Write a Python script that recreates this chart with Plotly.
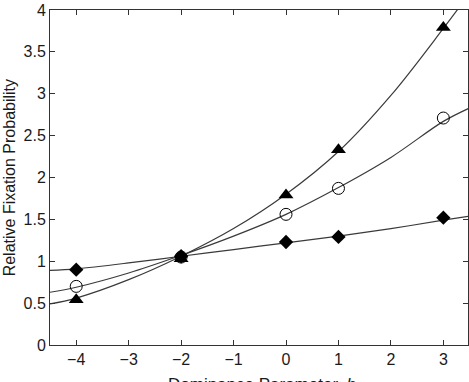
import plotly.graph_objects as go

# Data points
h_pts = [-4, -2, 0, 1, 3]
tri_vals = [0.54, 1.03, 1.79, 2.33, 3.79]
circ_vals = [0.70, 1.05, 1.56, 1.87, 2.71]
diam_vals = [0.90, 1.06, 1.23, 1.29, 1.52]

# Fitted curves
h_curve = [-4.5, -4, -3, -2, -1, 0, 1, 2, 3, 3.5]
tri_curve = [0.49, 0.56, 0.78, 1.06, 1.39, 1.80, 2.31, 2.98, 3.78, 4.20]
circ_curve = [0.63, 0.69, 0.86, 1.07, 1.30, 1.56, 1.88, 2.24, 2.67, 2.83]
diam_curve = [0.89, 0.91, 0.98, 1.06, 1.14, 1.22, 1.30, 1.39, 1.49, 1.54]

x_ticks = [-4, -3, -2, -1, 0, 1, 2, 3]
y_ticks = [0, 0.5, 1, 1.5, 2, 2.5, 3, 3.5, 4]
y_tick_text = ["0", "0.5", "1", "1.5", "2", "2.5", "3", "3.5", "4"]

line_col = "#3a3a3a"
fig = go.Figure()
for yc in [tri_curve, circ_curve, diam_curve]:
    fig.add_trace(go.Scatter(x=h_curve, y=yc, mode="lines",
                             line=dict(color=line_col, width=1.2, shape="spline"),
                             showlegend=False, hoverinfo="skip"))

fig.add_trace(go.Scatter(x=h_pts, y=tri_vals, mode="markers",
                         marker=dict(symbol="triangle-up", size=13, color="black"),
                         showlegend=False))
fig.add_trace(go.Scatter(x=h_pts, y=circ_vals, mode="markers",
                         marker=dict(symbol="circle-open", size=12, color="black",
                                     line=dict(width=1)),
                         showlegend=False))
fig.add_trace(go.Scatter(x=h_pts, y=diam_vals, mode="markers",
                         marker=dict(symbol="diamond", size=11, color="black"),
                         showlegend=False))

family = "Liberation Sans, Arial, Helvetica, sans-serif"
font = dict(family=family, size=16, color="#1a1a1a")

fig.update_layout(
    width=469, height=382,
    margin=dict(l=50, r=1, t=10, b=37),
    paper_bgcolor="white", plot_bgcolor="white",
    font=font,
    showlegend=False,
    xaxis=dict(range=[-4.5, 3.47], tickvals=x_ticks, ticks="inside", ticklen=5,
               tickcolor="#333", showline=True, linecolor="#333", linewidth=1,
               mirror="ticks", showgrid=False, zeroline=False, tickfont=font,
               automargin=False),
    yaxis=dict(range=[0, 4], tickvals=y_ticks, ticktext=y_tick_text,
               ticks="inside", ticklen=5, tickcolor="#333",
               showline=True, linecolor="#333", linewidth=1, mirror="ticks",
               showgrid=False, zeroline=False, tickfont=font, automargin=False),
    annotations=[
        dict(text="Dominance Parameter, <i>h</i>", xref="paper", yref="paper",
             x=0.506, y=-0.084, xanchor="center", yanchor="top", showarrow=False,
             font=dict(family=family, size=17, color="#1a1a1a")),
        dict(text="Relative Fixation Probability", xref="paper", yref="paper",
             x=-0.096, y=0.5, xanchor="center", yanchor="middle", textangle=-90,
             showarrow=False,
             font=dict(family=family, size=16, color="#1a1a1a")),
    ],
)

fig.write_html("out.html")
